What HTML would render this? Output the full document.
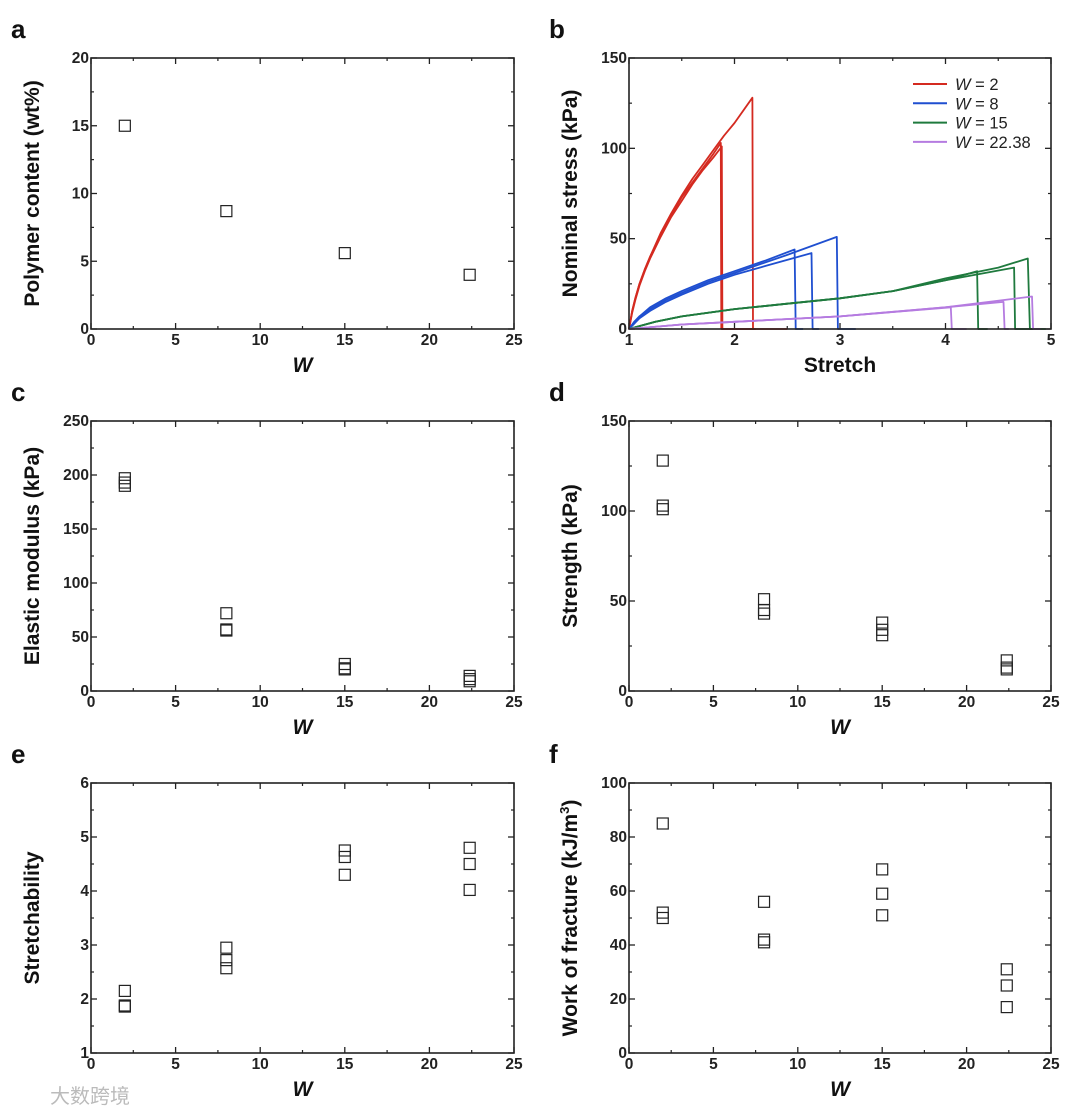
<!DOCTYPE html>
<html><head><meta charset="utf-8"><style>
body{margin:0;background:#fff;width:1080px;height:1115px;overflow:hidden}
svg text{font-family:"Liberation Sans",Arial,sans-serif}
</style></head><body>
<svg id="fig" width="1080" height="1115" xmlns="http://www.w3.org/2000/svg"></svg>
<script>
// ---- data ----
const aW=[2,8,15,22.38];
const aVals=[15,8.7,5.6,4.0];
const repW=[2,2,2,8,8,8,15,15,15,22.38,22.38,22.38];
const cVals=[197,193,190,72,57,56,25,21,20,14,11,9];
const dVals=[128,103,101,51,45,43,38,34,31,17,13,12];
const eVals=[2.15,1.88,1.86,2.95,2.72,2.57,4.75,4.63,4.3,4.8,4.5,4.02];
const fVals=[85,52,50,56,42,41,68,59,51,31,25,17];
const wTicks=[0,5,10,15,20,25];
const aTicks=[0,5,10,15,20];
const cTicks=[0,50,100,150,200,250];
const dTicks=[0,50,100,150];
const eTicks=[1,2,3,4,5,6];
const fTicks=[0,20,40,60,80,100];
const bXTicks=[1,2,3,4,5];
const bYTicks=[0,50,100,150];
const seriesNames=["W = 2","W = 8","W = 15","W = 22.38"];
const seriesColors=["#d42a20","#1f4fd0","#1f7a3e","#b57be0"];
// stress-stretch curves: [stretch, stress]
const curveX=[
 [1,1.03,1.06,1.1,1.15,1.2,1.3,1.4,1.5,1.6,1.7,1.8,1.87,1.875,1.9,2.5],
 [1,1.03,1.06,1.1,1.15,1.2,1.3,1.4,1.5,1.6,1.7,1.8,1.88,1.885,1.92,2.2],
 [1,1.03,1.06,1.1,1.15,1.2,1.3,1.4,1.5,1.6,1.7,1.8,1.9,2.0,2.17,2.175,2.2],
 [1,1.05,1.1,1.2,1.35,1.5,1.75,2,2.3,2.57,2.58,2.65],
 [1,1.05,1.1,1.2,1.35,1.5,1.75,2,2.3,2.73,2.74,2.8],
 [1,1.05,1.1,1.2,1.35,1.5,1.75,2,2.5,2.97,2.98,3.15],
 [1,1.25,1.5,2,2.5,3,3.5,4,4.3,4.31,4.4],
 [1,1.25,1.5,2,2.5,3,3.5,4,4.65,4.66,4.9],
 [1,1.25,1.5,2,2.5,3,3.5,4,4.5,4.78,4.8,4.95],
 [1,1.5,2,3,4.05,4.06,4.2],
 [1,1.5,2,3,4,4.55,4.56,4.6],
 [1,1.5,2,3,4,4.82,4.83,4.9]];
const curveY=[
 [0,10,17,25,33,40,52,63,73,81,89,97,103,0,0,0],
 [0,9,16,24,32,39,51,62,71,80,88,95,101,0,0,0],
 [0,10,17,25,33,40,53,64,74,83,91,99,107,114,128,0,0],
 [0,4,7,12,17,21,27,32,38,44,0,0],
 [0,3,6,10,15,19,25,30,35,42,0,0],
 [0,4,7,11,16,20,26,31,41,51,0,0],
 [0,4,7,11,14,17,21,27,32,0,0],
 [0,4,7,11,14,17,21,27,34,0,0],
 [0,4,7,11,14,17,21,28,34,39,0,0],
 [0,2.5,4,7,12,0,0],
 [0,2.5,4,7,12,15,0,0],
 [0,2.5,4,7,12,18,0,0]];
const curveSeries=[0,0,0,1,1,1,2,2,2,3,3,3];

const NS="http://www.w3.org/2000/svg";
const svg=document.getElementById('fig');
function el(tag,attrs,parent){const e=document.createElementNS(NS,tag);for(const k in attrs)e.setAttribute(k,attrs[k]);(parent||svg).appendChild(e);return e;}

function panel(opt){
 const g=el('g',{});
 
 
 const {x0,x1,y0,y1,xmin,xmax,ymin,ymax}=opt;
 const sx=v=>x0+(v-xmin)/(xmax-xmin)*(x1-x0);
 const sy=v=>y1-(v-ymin)/(ymax-ymin)*(y1-y0);
 const xt=opt.xticks, yt=opt.yticks;
 const xstep=xt[1]-xt[0], ystep=yt[1]-yt[0];
 for(let i=0;i<xt.length;i++){
  const X=sx(xt[i]);
  el('line',{x1:X,y1:y1,x2:X,y2:y1-6,stroke:'#222','stroke-width':1.3},g);
  el('line',{x1:X,y1:y0,x2:X,y2:y0+6,stroke:'#222','stroke-width':1.3},g);
  if(i<xt.length-1){const m=sx(xt[i]+xstep/2);
   el('line',{x1:m,y1:y1,x2:m,y2:y1-3,stroke:'#222','stroke-width':1.2},g);
   el('line',{x1:m,y1:y0,x2:m,y2:y0+3,stroke:'#222','stroke-width':1.2},g);}
  const t=el('text',{x:X,y:y1+16,'text-anchor':'middle','font-size':15.5,'font-weight':'bold',fill:'#222'},g);
  t.textContent=xt[i];
  
  
 }
 for(let i=0;i<yt.length;i++){
  const Y=sy(yt[i]);
  el('line',{x1:x0,y1:Y,x2:x0+6,y2:Y,stroke:'#222','stroke-width':1.3},g);
  el('line',{x1:x1,y1:Y,x2:x1-6,y2:Y,stroke:'#222','stroke-width':1.3},g);
  if(i<yt.length-1){const m=sy(yt[i]+ystep/2);
   el('line',{x1:x0,y1:m,x2:x0+3,y2:m,stroke:'#222','stroke-width':1.2},g);
   el('line',{x1:x1,y1:m,x2:x1-3,y2:m,stroke:'#222','stroke-width':1.2},g);}
  const t=el('text',{x:x0-2,y:Y+5,'text-anchor':'end','font-size':15.5,'font-weight':'bold',fill:'#222'},g);
  t.textContent=yt[i];
  
  
 }
 const xtitle=el('text',{x:(x0+x1)/2,y:y1+43,'text-anchor':'middle','font-size':21,'font-weight':'bold','font-style':opt.xital?'italic':'normal',fill:'#111'},g);
 xtitle.textContent=opt.xlabel;
 
 
 const ytx=x0-52, yty=(y0+y1)/2;
 const ytitle=el('text',{x:ytx,y:yty,'text-anchor':'middle','font-size':21,'font-weight':'bold',fill:'#111',transform:`rotate(-90 ${ytx} ${yty})`},g);
 if(opt.ylabelHTML){ytitle.innerHTML=opt.ylabelHTML;} else ytitle.textContent=opt.ylabel;
 
 
 const pl=el('text',{x:x0-80,y:y0-20,'font-size':26,'font-weight':'bold',fill:'#111'},g);
 pl.textContent=opt.letter;
 
 
 if(opt.xs){
  for(let i=0;i<opt.xs.length;i++){
   const r=el('rect',{x:sx(opt.xs[i])-5.5,y:sy(opt.ys[i])-5.5,width:11,height:11,fill:'none',stroke:'#222','stroke-width':1.2},g);
   
   
  }
 }
 if(opt.draw) opt.draw(g,sx,sy);
 const frame=el('rect',{x:x0,y:y0,width:x1-x0,height:y1-y0,fill:'none',stroke:'#222','stroke-width':1.6},g);
 
 
}

const L={x0:91,x1:514}, R={x0:629,x1:1051};
const rows=[[58,329],[421,691],[783,1053]];
panel({name:'panel-a',letter:'a',x0:L.x0,x1:L.x1,y0:rows[0][0],y1:rows[0][1],xmin:0,xmax:25,ymin:0,ymax:20,xticks:wTicks,yticks:aTicks,xlabel:'W',xital:true,ylabel:'Polymer content (wt%)',xs:aW,ys:aVals});
panel({name:'panel-b',letter:'b',x0:R.x0,x1:R.x1,y0:rows[0][0],y1:rows[0][1],xmin:1,xmax:5,ymin:0,ymax:150,xticks:bXTicks,yticks:bYTicks,xlabel:'Stretch',ylabel:'Nominal stress (kPa)',
 draw:(g,sx,sy)=>{
  for(let c=0;c<curveX.length;c++){
   const d=curveX[c].map((x,i)=>(i?'L':'M')+sx(x).toFixed(1)+','+sy(curveY[c][i]).toFixed(1)).join(' ');
   const p=el('path',{d:d,fill:'none',stroke:seriesColors[curveSeries[c]],'stroke-width':1.8,'stroke-linejoin':'round'},g);
   
   
  }
  for(let s=0;s<seriesNames.length;s++){
   const y=84+s*19.3;
   const lg=el('g',{},g);
   
   
   el('line',{x1:913,y1:y,x2:947,y2:y,stroke:seriesColors[s],'stroke-width':2},lg);
   const t=el('text',{x:955,y:y+6,'font-size':16.5,fill:'#222','font-family':'"DejaVu Serif",serif'},lg);
   t.innerHTML='<tspan font-style="italic">W</tspan> = '+seriesNames[s].split('= ')[1];
  }
 }});
panel({name:'panel-c',letter:'c',x0:L.x0,x1:L.x1,y0:rows[1][0],y1:rows[1][1],xmin:0,xmax:25,ymin:0,ymax:250,xticks:wTicks,yticks:cTicks,xlabel:'W',xital:true,ylabel:'Elastic modulus (kPa)',xs:repW,ys:cVals});
panel({name:'panel-d',letter:'d',x0:R.x0,x1:R.x1,y0:rows[1][0],y1:rows[1][1],xmin:0,xmax:25,ymin:0,ymax:150,xticks:wTicks,yticks:dTicks,xlabel:'W',xital:true,ylabel:'Strength (kPa)',xs:repW,ys:dVals});
panel({name:'panel-e',letter:'e',x0:L.x0,x1:L.x1,y0:rows[2][0],y1:rows[2][1],xmin:0,xmax:25,ymin:1,ymax:6,xticks:wTicks,yticks:eTicks,xlabel:'W',xital:true,ylabel:'Stretchability',xs:repW,ys:eVals});
panel({name:'panel-f',letter:'f',x0:R.x0,x1:R.x1,y0:rows[2][0],y1:rows[2][1],xmin:0,xmax:25,ymin:0,ymax:100,xticks:wTicks,yticks:fTicks,xlabel:'W',xital:true,ylabelHTML:'Work of fracture (kJ/m<tspan dy="-8" font-size="13">3</tspan><tspan dy="8">)</tspan>',xs:repW,ys:fVals});
const wm=el('text',{x:50,y:1103,'font-size':20,fill:'#bbb','font-family':'"Noto Sans CJK SC",sans-serif'});
wm.textContent='大数跨境';


</script>
</body></html>
